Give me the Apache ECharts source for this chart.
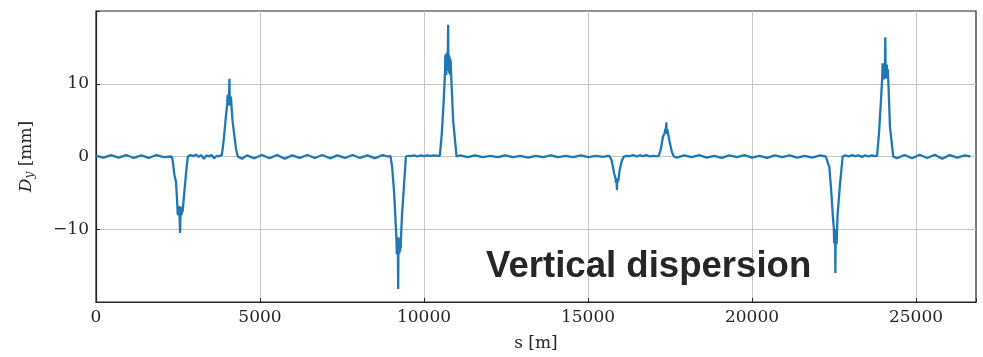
<!DOCTYPE html>
<html>
<head>
<meta charset="utf-8">
<script src="https://cdn.jsdelivr.net/npm/echarts@6/dist/echarts.min.js"></script>
<style>
html,body{margin:0;padding:0;background:#fff;}
#chart{width:983px;height:357px;}
</style>
</head>
<body>
<div id="chart"></div>
<script>
// [s (m), D_y (mm)], per region of the ring
const arc1 = [[0,0.1],[230,-0.15],[460,0.2],[690,-0.15],[920,0.2],[1150,-0.2],[1380,0.15],[1610,-0.2],[1840,0.2],[2070,-0.1],[2300,0.0]];
const dip1 = [[2330,-0.3],[2394,-2.6],[2440,-3.5],[2480,-6.7],[2492,-8.0],[2505,-6.9],[2518,-8.1],[2530,-6.8],[2545,-8.2],[2565,-10.5],[2578,-6.9],[2590,-8.1],[2602,-7.0],[2615,-8.0],[2628,-7.0],[2640,-7.6],[2700,-4.5],[2770,-1.2],[2801,0.0]];
const ins1 = [[2880,0.2],[2960,0.05],[3050,0.25],[3130,-0.05],[3200,0.2],[3290,-0.3],[3370,0.15],[3450,0.0],[3520,0.2],[3600,-0.25],[3680,0.1],[3760,0.05],[3837,0.2]];
const peak1 = [[3900,2.5],[3960,5.5],[4000,7.2],[4012,8.4],[4024,7.1],[4036,8.5],[4048,7.0],[4058,8.4],[4068,10.7],[4078,7.0],[4090,8.3],[4102,7.1],[4114,8.2],[4125,7.4],[4160,5.0],[4218,2.9],[4270,1.0],[4324,0.0]];
const arc2 = [[4450,-0.3],[4600,0.15],[4830,-0.25],[5060,0.2],[5290,-0.25],[5520,0.2],[5750,-0.3],[5980,0.15],[6210,-0.2],[6440,0.2],[6670,-0.2],[6900,0.2],[7130,-0.25],[7360,0.15],[7590,-0.2],[7820,0.2],[8050,-0.2],[8280,0.15],[8510,-0.25],[8740,0.2],[8900,0.0],[8980,0.05]];
const dip2 = [[9030,-1.5],[9090,-5.0],[9140,-9.5],[9160,-11.3],[9170,-13.4],[9180,-11.2],[9190,-13.5],[9200,-11.1],[9214,-18.2],[9222,-11.1],[9232,-13.4],[9242,-11.3],[9252,-13.3],[9262,-11.4],[9272,-13.0],[9282,-11.3],[9292,-12.6],[9300,-11.0],[9330,-8.0],[9390,-4.0],[9449,0.0]];
const ins2 = [[9520,0.1],[9600,0.05],[9700,0.15],[9800,0.0],[9900,0.15],[10000,0.05],[10100,0.15],[10200,0.1],[10300,0.15],[10400,0.1],[10484,0.1]];
const peak2 = [[10540,3.0],[10600,7.5],[10640,11.5],[10650,13.9],[10660,11.3],[10670,14.0],[10680,11.2],[10690,14.2],[10700,12.0],[10710,14.3],[10722,12.0],[10737,18.1],[10745,11.8],[10755,14.0],[10765,11.5],[10775,13.8],[10785,11.3],[10795,13.5],[10805,11.2],[10815,13.2],[10830,11.0],[10890,4.9],[10993,0.0]];
const arc3 = [[11100,0.15],[11330,-0.1],[11560,0.15],[11790,-0.1],[12020,0.1],[12250,-0.1],[12480,0.15],[12710,-0.1],[12940,0.1],[13170,-0.15],[13400,0.1],[13630,-0.1],[13860,0.15],[14090,-0.1],[14320,0.1],[14550,-0.1],[14780,0.15],[15010,-0.1],[15240,0.1],[15470,-0.05],[15600,0.1],[15661,0.05]];
const dip3 = [[15720,-0.5],[15790,-2.2],[15840,-3.0],[15852,-3.6],[15864,-3.0],[15875,-3.6],[15883,-4.6],[15892,-3.1],[15903,-3.6],[15914,-3.0],[15925,-3.4],[15960,-2.0],[16030,-0.6],[16096,0.0]];
const ins3 = [[16180,0.1],[16280,0.05],[16380,0.2],[16480,0.0],[16580,0.15],[16680,0.05],[16780,0.2],[16880,0.0],[16980,0.1],[17080,0.05],[17153,0.05]];
const peak3 = [[17220,1.0],[17290,2.8],[17340,3.2],[17352,3.8],[17364,3.1],[17376,3.8],[17387,4.7],[17397,3.2],[17408,3.8],[17419,3.1],[17430,3.6],[17480,2.2],[17560,0.6],[17619,0.0]];
const arc4 = [[17700,-0.15],[17930,0.15],[18160,-0.1],[18390,0.2],[18620,-0.15],[18850,0.1],[19080,-0.2],[19310,0.15],[19540,-0.1],[19770,0.2],[20000,-0.15],[20230,0.1],[20460,-0.2],[20690,0.15],[20920,-0.1],[21150,0.15],[21380,-0.15],[21610,0.1],[21840,-0.15],[22070,0.15],[22250,0.0],[22308,0.05]];
const dip4 = [[22360,-1.5],[22420,-5.0],[22470,-8.5],[22495,-9.8],[22505,-11.9],[22515,-10.0],[22525,-12.0],[22535,-10.0],[22543,-16.0],[22552,-10.1],[22562,-12.1],[22572,-10.0],[22582,-12.0],[22592,-10.2],[22610,-8.0],[22680,-4.0],[22765,0.0]];
const ins4 = [[22850,0.15],[22950,0.0],[23050,0.2],[23150,0.05],[23250,0.15],[23350,-0.05],[23450,0.15],[23550,0.0],[23650,0.15],[23750,0.05],[23813,0.1]];
const peak4 = [[23870,3.0],[23930,7.5],[23970,10.8],[23982,12.8],[23994,10.6],[24006,12.7],[24018,10.6],[24030,12.6],[24042,10.8],[24054,12.4],[24065,16.4],[24075,10.7],[24087,12.7],[24099,10.8],[24111,12.6],[24123,10.8],[24140,12.0],[24160,10.0],[24208,4.0],[24308,0.0]];
const arc5 = [[24420,-0.25],[24650,0.2],[24880,-0.25],[25110,0.25],[25340,-0.2],[25570,0.25],[25800,-0.3],[26030,0.2],[26260,-0.15],[26490,0.15],[26659,0.0]];

const xTicks = [0,5000,10000,15000,20000,25000];
const yTicks = [-10,0,10];

const data = [].concat(arc1,dip1,ins1,peak1,arc2,dip2,ins2,peak2,arc3,dip3,ins3,peak3,arc4,dip4,ins4,peak4,arc5);

const FG = '#262626';
const SERIF = 'DejaVu Serif';
const chart = echarts.init(document.getElementById('chart'), null, {renderer:'canvas'});
chart.setOption({
  animation:false,
  grid:{left:96,right:7,top:11,bottom:54,show:true,borderColor:FG,borderWidth:1.2,backgroundColor:'#fff'},
  xAxis:{
    type:'value',min:0,max:26830,interval:5000,
    name:'s [m]',nameLocation:'middle',nameGap:33,
    nameTextStyle:{fontFamily:SERIF,fontSize:17,color:FG},
    axisLine:{show:true,onZero:false,lineStyle:{color:FG,width:1.2}},
    axisTick:{show:true,inside:true,length:4,lineStyle:{color:FG}},
    axisLabel:{fontFamily:SERIF,fontSize:17,color:FG,margin:7,
      formatter:v=>xTicks.includes(v)?String(v):''},
    splitLine:{show:true,showMinLine:false,showMaxLine:false,lineStyle:{color:'#c4c4c4',width:1}}
  },
  yAxis:{
    type:'value',min:-20,max:20,interval:10,
    name:'{i|D}{s|y} [mm]',nameLocation:'middle',nameGap:60,nameRotate:90,
    nameTextStyle:{fontFamily:SERIF,fontSize:17,color:FG,
      rich:{i:{fontFamily:SERIF,fontStyle:'italic',fontSize:17,color:FG},
            s:{fontFamily:SERIF,fontStyle:'italic',fontSize:12,color:FG,padding:[7,0,0,0]}}},
    axisLine:{show:true,onZero:false,lineStyle:{color:FG,width:1.2}},
    axisTick:{show:true,inside:true,length:4,lineStyle:{color:FG}},
    axisLabel:{fontFamily:SERIF,fontSize:17,color:FG,margin:7,
      formatter:v=>yTicks.includes(v)?String(v).replace('-','\u2212'):''},
    splitLine:{show:true,showMinLine:false,showMaxLine:false,lineStyle:{color:'#c4c4c4',width:1}}
  },
  series:[{
    type:'line',data:data,showSymbol:false,sampling:null,
    lineStyle:{color:'#1f77b4',width:2.3},itemStyle:{color:'#1f77b4'},z:3
  }],
  graphic:[{
    type:'text',left:486,top:248,z:100,
    style:{text:'Vertical dispersion',font:'bold 36.6px "Liberation Sans", Arial, sans-serif',fill:FG}
  }]
});
</script>
</body>
</html>
